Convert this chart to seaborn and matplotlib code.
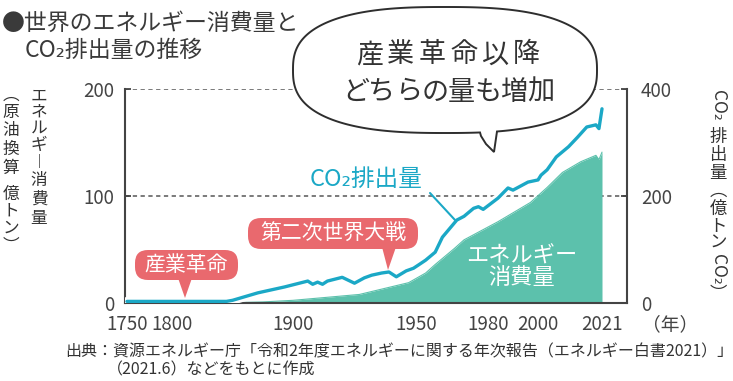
import numpy as np
import pandas as pd
import matplotlib
matplotlib.use("Agg")
import matplotlib.pyplot as plt
import matplotlib.patheffects as pe
from matplotlib.patches import FancyBboxPatch, Polygon
from matplotlib.transforms import Affine2D
import seaborn as sns

# ---------------- data ----------------
co2_years = [1750, 1845, 1850, 1871, 1893, 1906, 1908, 1910, 1912, 1914, 1920,
             1925, 1929, 1932, 1936, 1939, 1942, 1946, 1949, 1951, 1954, 1958,
             1961, 1967, 1970, 1974, 1976, 1978, 1984, 1988, 1990, 1996, 2000,
             2001, 2003, 2006, 2010, 2013, 2016, 2019, 2020, 2021]
co2_values = [3, 3, 5, 19, 30, 41, 35, 39, 35, 41, 48,
              37, 47, 52, 56, 58, 49, 60, 65, 71, 80, 95,
              123, 155, 162, 177, 180, 175, 196, 215, 211, 226, 230,
              239, 249, 273, 292, 310, 329, 333, 326, 363]

energy_years = [1750, 1850, 1875, 1900, 1927, 1947, 1954, 1958, 1966, 1970,
                1984, 1997, 2003, 2008, 2014, 2019, 2020, 2021]
energy_values = [0, 0.3, 1, 2.5, 8, 19, 28, 36, 51, 59,
                 76, 94, 108, 122, 132, 138, 134, 141]

x_ticks = [1750, 1800, 1900, 1950, 1980, 2000, 2021]
left_ticks = [0, 100, 200]
right_ticks = [0, 200, 400]

title_lines = ["●世界のエネルギー消費量と", "CO₂排出量の推移"]
bubble_lines = ["産業革命以降", "どちらの量も増加"]
note_industrial = "産業革命"
note_ww2 = "第二次世界大戦"
co2_label = "CO₂排出量"
energy_label = ["エネルギー", "消費量"]
footer_lines = ["出典：資源エネルギー庁「令和2年度エネルギーに関する年次報告（エネルギー白書2021）」",
                "（2021.6）などをもとに作成"]
year_unit = "（年）"

# ---------------- style ----------------
W, H, DPI = 733, 381, 100
sns.set_style("white")
plt.rcParams['font.family'] = ['Noto Sans CJK JP', 'DejaVu Sans']

TXT = '#333333'
AXC = '#444444'
TEAL = '#1BA8C6'
GREEN = '#5CC1AC'
RED = '#E9696E'

fig = plt.figure(figsize=(W / DPI, H / DPI), dpi=DPI)
fig.patch.set_facecolor('white')
L, R, TOP, BOT = 125, 627, 89, 303
ax = fig.add_axes([L / W, 1 - BOT / H, (R - L) / W, (BOT - TOP) / H])

# piecewise (non-uniform) year axis, as in the original
scale_years = np.array([1748, 1750, 1800, 1900, 1950, 1980, 2000, 2021, 2030], float)
scale_pos = np.array([0, 2, 47, 168, 291, 363, 413, 477, 502], float)
fwd = lambda v: np.interp(v, scale_years, scale_pos)
inv = lambda v: np.interp(v, scale_pos, scale_years)
ax.set_xscale('function', functions=(fwd, inv))
ax.set_xlim(1748, 2030)
ax.set_ylim(0, 200)

energy_df = pd.DataFrame({'year': energy_years, 'energy': energy_values})
co2_df = pd.DataFrame({'year': co2_years, 'co2': co2_values})

ax.fill_between(energy_df['year'], energy_df['energy'], color=GREEN, lw=0, zorder=2)
sns.lineplot(data=energy_df, x='year', y='energy', ax=ax, color=GREEN, lw=0.8, zorder=2)

ax2 = ax.twinx()
ax2.set_ylim(0, 400)
sns.lineplot(data=co2_df, x='year', y='co2', ax=ax2, color=TEAL, lw=2.4, zorder=3,
             path_effects=[pe.Stroke(linewidth=6.5, foreground='white'), pe.Normal()])

for a in (ax, ax2):
    a.set_xlabel('')
    a.set_ylabel('')
    for s in a.spines.values():
        s.set_color(AXC)
        s.set_linewidth(1.5)
    a.spines['top'].set_visible(False)
ax.spines['right'].set_visible(False)
ax2.spines['left'].set_visible(False)
ax2.spines['bottom'].set_visible(False)

ax.set_xticks(x_ticks)
ax.set_xticklabels([str(y) for y in x_ticks])
ax.set_yticks(left_ticks)
ax.set_yticklabels([str(v) for v in left_ticks])
ax2.set_yticks(right_ticks)
ax2.set_yticklabels([str(v) for v in right_ticks])
ax.xaxis.set_minor_locator(matplotlib.ticker.NullLocator())

ax.tick_params(axis='x', direction='out', length=5, width=1.3, color=AXC,
               labelsize=13.5, labelcolor=AXC, pad=3)
ax.tick_params(axis='y', direction='in', length=4, width=1.3, color=AXC,
               labelsize=13.5, labelcolor=AXC, pad=8, left=True)
ax2.tick_params(axis='y', direction='in', length=4, width=1.3, color=AXC,
                labelsize=13.5, labelcolor=AXC, pad=10, right=True)

ax.set_axisbelow(True)
ax.yaxis.grid(True, color='#7a7a7a', lw=1.4, linestyle=(0, (2.2, 1.8)))
ax.xaxis.grid(False)
ax2.grid(False)

# ---------------- decorations in image pixel coordinates ----------------
T = Affine2D().scale(1, -1).translate(0, H)

def ftxt(x, y, s, **kw):
    kw.setdefault('color', TXT)
    kw.setdefault('ha', 'center')
    kw.setdefault('va', 'center')
    return fig.text(x, y, s, transform=T, **kw)

# title
ftxt(2, 23, title_lines[0], ha='left', fontsize=16.5, color='#3a3a3a')
ftxt(25, 50, title_lines[1], ha='left', fontsize=16.5, color='#3a3a3a')

# left vertical label
col1 = ["エ", "ネ", "ル", "ギ", "︱", "消", "費", "量"]
col1_y = [96, 112, 128, 145, 162, 180, 199, 218]
for c, y in zip(col1, col1_y):
    ftxt(39, y, c, fontsize=12, color=TXT)
col2 = ["︵", "原", "油", "換", "算", "億", "ト", "ン", "︶"]
col2_y = [95, 112, 130, 149, 168, 194, 211, 228, 246]
for c, y in zip(col2, col2_y):
    ftxt(11, y, c, fontsize=12, color=TXT)

# right vertical label
right_items = [("CO₂", 105, True), ("排", 137, False), ("出", 155, False), ("量", 173, False),
               ("︵", 191, False), ("億", 209, False), ("ト", 226, False), ("ン", 243, False),
               ("CO₂", 269, True), ("︶", 294, False)]
for c, y, rot in right_items:
    ftxt(718, y, c, fontsize=12.5, color=TXT, rotation=-90 if rot else 0)

# year unit
ftxt(670, 325, year_unit, fontsize=13.5, color=AXC)

# footer
ftxt(65, 352, footer_lines[0], ha='left', fontsize=11.5, color=TXT)
ftxt(107, 370, footer_lines[1], ha='left', fontsize=11.5, color=TXT)

# speech bubble
cx, cy, a_, b_, n_ = 445.0, 70.0, 152.0, 63.0, 2.6
def se(t):
    c, s = np.cos(t), np.sin(t)
    return (cx + a_ * np.sign(c) * np.abs(c) ** (2 / n_),
            cy + b_ * np.sign(s) * np.abs(s) ** (2 / n_))
t_left = np.arccos(((480 - cx) / a_) ** (n_ / 2))
t_right = np.arccos(((497 - cx) / a_) ** (n_ / 2))
ts = np.linspace(t_left, t_right + 2 * np.pi, 400)
bx, by = se(ts)
verts = list(zip(bx, by)) + [(494, 152), (486, 144), (481, 136), (bx[0], by[0])]
bubble = Polygon(verts, closed=True, transform=T, facecolor='white',
                 edgecolor='#2e2e2e', lw=1.4, zorder=5)
fig.add_artist(bubble)
for i, c in enumerate(bubble_lines[0]):
    ftxt(448 + (i - 2.5) * 31.5, 55, c, fontsize=19.5, color='#333333', zorder=6)
for i, c in enumerate(bubble_lines[1]):
    ftxt(448 + (i - 3.5) * 26.4, 92, c, fontsize=19.5, color='#333333', zorder=6)

# red callouts
def callout(x0, y0, x1, y1, tip, text, base_x):
    box = FancyBboxPatch((x0, y0), x1 - x0, y1 - y0,
                         boxstyle="round,pad=0,rounding_size=13",
                         transform=T, facecolor=RED, edgecolor='none', zorder=5)
    fig.add_artist(box)
    tri = Polygon([(base_x - 7, y1 - 2), (base_x + 7, y1 - 2), tip], closed=True,
                  transform=T, facecolor=RED, edgecolor='none', zorder=5)
    fig.add_artist(tri)
    ftxt((x0 + x1) / 2, (y0 + y1) / 2, text, fontsize=15, color='white', zorder=6)

callout(135, 250, 238, 280, (185, 298), note_industrial, 185)
callout(248, 218, 418, 249, (388, 270), note_ww2, 389)

# CO2 label + leader line
ftxt(366, 180, co2_label, fontsize=17, color=TEAL, zorder=6)
fig.add_artist(plt.Line2D([430, 455], [H - 193, H - 220], transform=None,
                          color=TEAL, lw=1.5, zorder=6))

# energy label inside area
ftxt(522, 256, energy_label[0], fontsize=16, color='white', zorder=6)
ftxt(522, 278, energy_label[1], fontsize=16, color='white', zorder=6)

fig.savefig('out.png', dpi=DPI)
